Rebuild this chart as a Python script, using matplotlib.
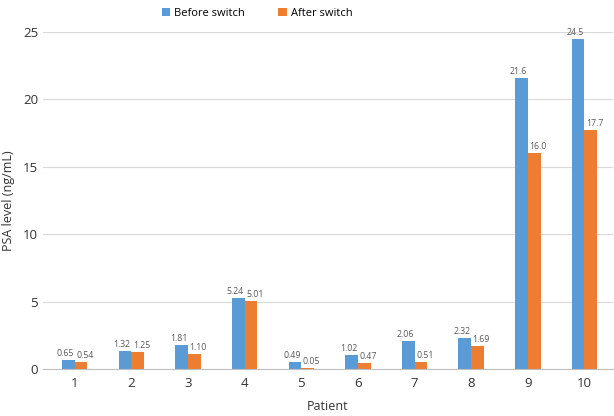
import numpy as np
import matplotlib.pyplot as plt

# data
patients = ['1', '2', '3', '4', '5', '6', '7', '8', '9', '10']
before = [0.65, 1.32, 1.81, 5.24, 0.49, 1.02, 2.06, 2.32, 21.6, 24.5]
after = [0.54, 1.25, 1.10, 5.01, 0.05, 0.47, 0.51, 1.69, 16.0, 17.7]
yticks = [0, 5, 10, 15, 20, 25]

plt.rcParams['font.family'] = ['Open Sans', 'DejaVu Sans']

fig = plt.figure(figsize=(6.14, 4.16), dpi=100)
ax = fig.add_axes([0.070, 0.113, 0.928, 0.810])

x = np.arange(len(patients))
w = 0.224
b1 = ax.bar(x - w / 2, before, w, color='#5B9BD5', label='Before switch', zorder=2)
b2 = ax.bar(x + w / 2, after, w, color='#ED7D31', label='After switch', zorder=2)

# value labels
def fmt(v):
    return f'{v:.1f}' if v >= 10 else f'{v:.2f}'

for bars, vals, dx in ((b1, before, -2.2), (b2, after, 2.8)):
    for rect, v in zip(bars, vals):
        ax.annotate(fmt(v), (rect.get_x() + rect.get_width() / 2, v),
                    xytext=(dx, 1.5), textcoords='offset points',
                    ha='center', va='bottom', fontsize=6.3, color='#595959',
                    annotation_clip=False)

ax.set_xlim(-0.56, 9.5)
ax.set_ylim(0, 25)
ax.set_xticks(x)
ax.set_xticklabels(patients)
ax.set_yticks(yticks)
ax.tick_params(length=0, labelsize=9.5, colors='#333333')
ax.tick_params(axis='x', pad=6)
ax.grid(axis='y', color='#D9D9D9', linewidth=0.8, zorder=0)
for s in ['top', 'right', 'left']:
    ax.spines[s].set_visible(False)
ax.spines['bottom'].set_color('#BFBFBF')
ax.spines['bottom'].set_zorder(3)

ax.set_xlabel('Patient', fontsize=9, color='#333333', labelpad=7)
ax.set_ylabel('PSA level (ng/mL)', fontsize=9, color='#333333', labelpad=6)

fig.legend(loc='center', bbox_to_anchor=(0.419, 0.968), ncol=2, frameon=False,
           handlelength=0.75, handleheight=0.75, handletextpad=0.4,
           columnspacing=3.0, fontsize=8)

plt.savefig('out.png', dpi=100)
